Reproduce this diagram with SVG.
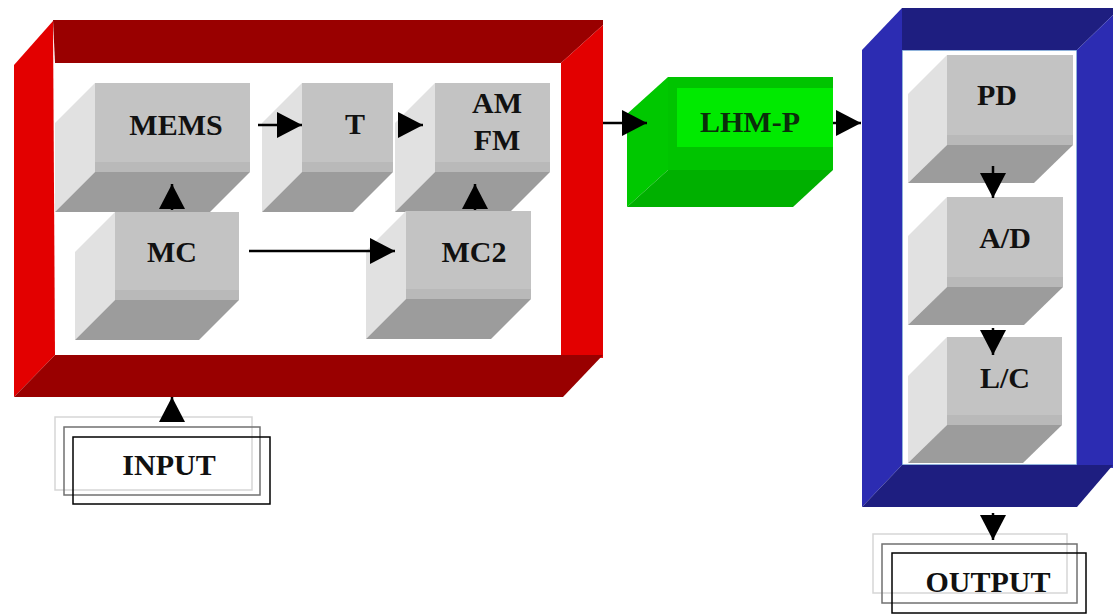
<svg xmlns="http://www.w3.org/2000/svg" width="1114" height="616" viewBox="0 0 1114 616">
<defs>
<style>
.front{fill:#c3c3c3}
.band{fill:#b9b9b9}
.side{fill:#e1e1e1}
.bottom{fill:#9c9c9c}
.lbl{font-family:"Liberation Serif","Times New Roman",serif;font-weight:bold;font-size:30px;fill:#111;text-anchor:middle}
.rdark{fill:#990000}
.rlight{fill:#e30000}
.bdark{fill:#1e1e80}
.blight{fill:#2c2cb2}
.conn{stroke:#000;stroke-width:2.5;fill:none}
</style>
<marker id="ah" markerUnits="userSpaceOnUse" markerWidth="25" markerHeight="26" viewBox="0 0 25 26" refX="25" refY="13" orient="auto">
<polygon points="0,0 25,13 0,26" fill="#000"/>
</marker>
</defs>
<rect width="1114" height="616" fill="#fff"/>

<g id="frame-left">
<rect x="55" y="63" width="506" height="292" fill="#fff"/>
<polygon class="rlight" points="14,65 53,21 55,355 14,397"/>
<polygon class="rdark" points="53,20 603,20 603,25 561,63 55,63"/>
<polygon class="rlight" points="561,63 603,25 603,358 561,355"/>
<polygon class="rdark" points="55,355 603,355 563,397 14,397"/>
</g>

<g id="frame-right">
<rect x="902" y="50" width="175" height="415" fill="#fff" stroke="#6c9ad0" stroke-width="1.5"/>
<polygon class="blight" points="862,50 902,8 902,465 862,507"/>
<polygon class="bdark" points="902,8 1113,8 1113,15 1077,50 902,50"/>
<polygon class="blight" points="1077,50 1113,15 1113,468 1077,465"/>
<polygon class="bdark" points="902,465 1113,465 1077,507 862,507"/>
</g>

<g id="mems">
<polygon class="side" points="95,83 95,172 55,212 55,123"/>
<polygon class="bottom" points="95,172 250,172 210,212 55,212"/>
<rect class="front" x="95" y="83" width="155" height="89"/>
<rect class="band" x="95" y="162" width="155" height="10"/>
<text class="lbl" x="176" y="135">MEMS</text>
</g>

<g id="t">
<polygon class="side" points="302,83 302,172 262,212 262,123"/>
<polygon class="bottom" points="302,172 393,172 353,212 262,212"/>
<rect class="front" x="302" y="83" width="91" height="89"/>
<rect class="band" x="302" y="162" width="91" height="10"/>
<text class="lbl" x="355" y="134">T</text>
</g>

<g id="amfm">
<polygon class="side" points="435,83 435,172 395,212 395,123"/>
<polygon class="bottom" points="435,172 550,172 510,212 395,212"/>
<rect class="front" x="435" y="83" width="115" height="89"/>
<rect class="band" x="435" y="162" width="115" height="10"/>
<text class="lbl" x="497" y="113">AM</text>
<text class="lbl" x="497" y="150">FM</text>
</g>

<g id="mc">
<polygon class="side" points="115,212 115,300 75,340 75,252"/>
<polygon class="bottom" points="115,300 239,300 199,340 75,340"/>
<rect class="front" x="115" y="212" width="124" height="88"/>
<rect class="band" x="115" y="290" width="124" height="10"/>
<text class="lbl" x="172" y="262">MC</text>
</g>

<g id="mc2">
<polygon class="side" points="406,211 406,299 366,339 366,251"/>
<polygon class="bottom" points="406,299 531,299 491,339 366,339"/>
<rect class="front" x="406" y="211" width="125" height="88"/>
<rect class="band" x="406" y="289" width="125" height="10"/>
<text class="lbl" x="474" y="262">MC2</text>
</g>

<g id="lhm-p">
<polygon fill="#00c800" points="668,77 668,170 627,207 627,114"/>
<polygon fill="#00b000" points="668,170 833,170 793,207 627,207"/>
<rect x="668" y="77" width="165" height="93" fill="#00c400"/>
<rect x="677" y="88" width="156" height="59" fill="#00ea00"/>
<text class="lbl" x="750" y="132" style="fill:#0b2e0b">LHM-P</text>
</g>

<g id="pd">
<polygon class="side" points="947,55 947,145 908,183 908,94"/>
<polygon class="bottom" points="947,145 1073,145 1034,183 908,183"/>
<rect class="front" x="947" y="55" width="126" height="90"/>
<rect class="band" x="947" y="135" width="126" height="10"/>
<text class="lbl" x="997" y="105">PD</text>
</g>

<g id="ad">
<polygon class="side" points="947,197 947,287 908,325 908,236"/>
<polygon class="bottom" points="947,287 1063,287 1024,325 908,325"/>
<rect class="front" x="947" y="197" width="116" height="90"/>
<rect class="band" x="947" y="277" width="116" height="10"/>
<text class="lbl" x="1005" y="248">A/D</text>
</g>

<g id="lc">
<polygon class="side" points="947,337 947,425 908,463 908,376"/>
<polygon class="bottom" points="947,425 1062,425 1023,463 908,463"/>
<rect class="front" x="947" y="337" width="115" height="88"/>
<rect class="band" x="947" y="415" width="115" height="10"/>
<text class="lbl" x="1005" y="388">L/C</text>
</g>

<g id="input">
<rect x="55" y="417" width="197" height="73" fill="none" stroke="#d6d6d6" stroke-width="1.5"/>
<rect x="64" y="427" width="196" height="68" fill="none" stroke="#707070" stroke-width="1.5"/>
<rect x="73" y="437" width="197" height="67" fill="none" stroke="#000" stroke-width="1.5"/>
<text class="lbl" x="169" y="475">INPUT</text>
</g>

<g id="output">
<rect x="873" y="534" width="194" height="59" fill="none" stroke="#d6d6d6" stroke-width="1.5"/>
<rect x="882" y="544" width="195" height="59" fill="none" stroke="#707070" stroke-width="1.5"/>
<rect x="892" y="553" width="194" height="60" fill="none" stroke="#000" stroke-width="1.5"/>
<text class="lbl" x="988" y="592">OUTPUT</text>
</g>

<g id="connectors">
<line class="conn" x1="258" y1="125" x2="302" y2="125" marker-end="url(#ah)"/>
<line class="conn" x1="399" y1="125" x2="423" y2="125" marker-end="url(#ah)"/>
<line class="conn" x1="172" y1="210" x2="172" y2="184" marker-end="url(#ah)"/>
<line class="conn" x1="475" y1="210" x2="475" y2="184" marker-end="url(#ah)"/>
<line class="conn" x1="249" y1="251" x2="395" y2="251" marker-end="url(#ah)"/>
<line class="conn" x1="603" y1="123" x2="647" y2="123" marker-end="url(#ah)"/>
<line class="conn" x1="833" y1="123" x2="861" y2="123" marker-end="url(#ah)"/>
<line class="conn" x1="993" y1="166" x2="993" y2="198" marker-end="url(#ah)"/>
<line class="conn" x1="993" y1="328" x2="993" y2="355" marker-end="url(#ah)"/>
<line class="conn" x1="993" y1="513" x2="993" y2="540" marker-end="url(#ah)"/>
<line class="conn" x1="172" y1="419" x2="172" y2="397" marker-end="url(#ah)"/>
</g>
</svg>
